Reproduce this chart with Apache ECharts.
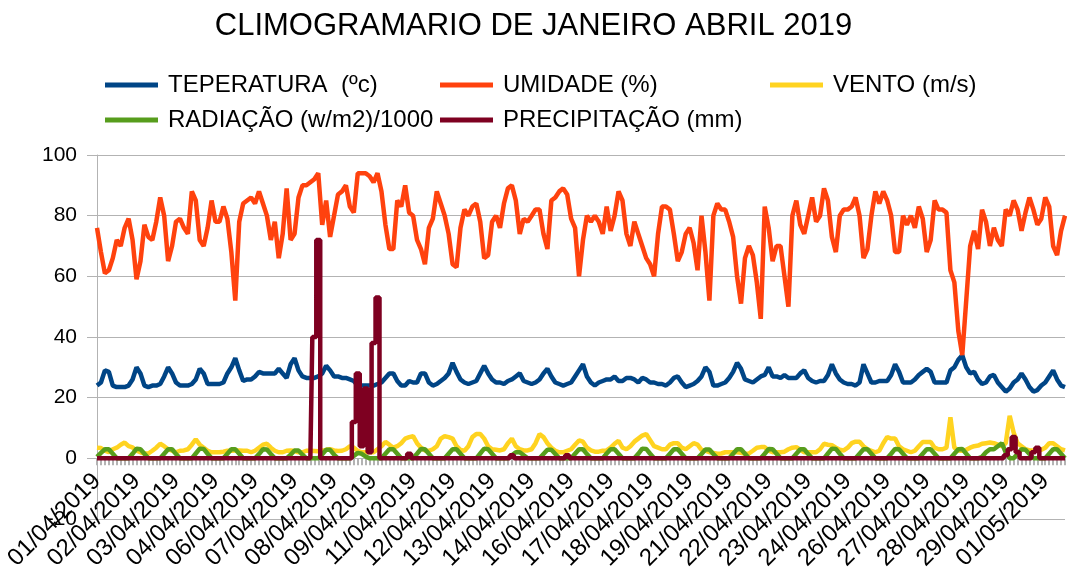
<!DOCTYPE html>
<html>
<head>
<meta charset="utf-8">
<script src="https://cdn.jsdelivr.net/npm/echarts@6/dist/echarts.min.js"></script>
<style>
html,body{margin:0;padding:0;background:#fff;}
#chart{width:1067px;height:571px;}
</style>
</head>
<body>
<div id="chart"></div>
<script>
// Tick labels shown on the x axis (one every 10 samples of 3 hours)
var tickLabels = ['01/04/2019','02/04/2019','03/04/2019','04/04/2019','06/04/2019','07/04/2019','08/04/2019','09/04/2019','11/04/2019','12/04/2019','13/04/2019','14/04/2019','16/04/2019','17/04/2019','18/04/2019','19/04/2019','21/04/2019','22/04/2019','23/04/2019','24/04/2019','26/04/2019','27/04/2019','28/04/2019','29/04/2019','01/05/2019'];

var seriesNames = ['TEPERATURA  (ºc)','UMIDADE (%)','VENTO (m/s)','RADIAÇÃO (w/m2)/1000','PRECIPITAÇÃO (mm)'];

var temperatura = [
24,25,29,28.5,24,23.5,23.5,23.5,24,26,
30,28,24,23.5,24,24,24.5,27,30,28,
25,24,24,24,24.5,26,29.5,28,24.5,24.5,
24.5,24.5,25,28,30,33,29,25.5,26,26,
27,28.5,28,28,28,28,29.5,28,26.5,31,
33,29,27,26.5,26.5,26.5,27,28,30.5,29,
27,27,26.5,26.5,26,25.5,24,24,24,24,
24,24.5,25,26.5,28,28,25.5,24,24,25.5,
25,25,28,28,25,24,24.5,25.5,26.5,28,
31.5,28.5,26,25,24.5,25,25.5,28,30.5,28,
26,25,25,24.5,25.5,26,27,28,25.5,25,
24.5,25,26,28,29.5,27,25,24.5,24,24.5,
25,27,29,31,27,25,24,25,25.5,26,
26,27,25.5,25.5,26.5,26.5,26,25,26.5,26,
25,25,24.5,24.5,24,25,26.5,27,25,23.5,
24,24.5,25.5,27,30,28.5,24,24,24.5,25,
26.5,28.5,31.5,29.5,26,25.5,25,26,27,27.5,
30,27,27,26.5,27.5,26.5,26.5,26.5,28,29,
26.5,25.5,25,25.5,25.5,27.5,31,28,26,25,
24.5,24.5,24,25,31,28,25,25,25.5,25.5,
25.5,27.5,31,28.5,25,25,25,26,27.5,28.5,
29.5,28.5,25,25,25,25,29,30,32.5,34,
30,28,28.5,26,24.5,25,27,27.5,25,23.5,
22,23,25,26,28,26,23.5,22,22.5,24,
25,27,29,26,24,23.5
];

var umidade = [
76,68,61,62,66,72,70,76,79,72,
59,65,77,73,72,78,86,80,65,70,
78,79,76,74,88,85,72,70,76,85,
78,78,83,79,68,52,78,84,85,86,
84,88,84,80,72,78,66,74,89,72,
74,86,90,90,91,92,94,77,85,73,
80,87,88,90,83,81,94,94,94,93,
91,94,88,77,69,69,85,83,90,81,
80,72,69,64,76,79,88,84,80,74,
64,63,76,82,80,83,84,78,66,67,
78,80,76,84,89,90,85,74,79,78,
80,82,82,74,69,85,86,88,89,87,
79,76,60,72,80,78,80,78,74,83,
75,80,88,85,74,70,78,74,70,66,
64,60,74,83,83,82,74,65,68,74,
76,71,62,80,68,52,80,84,82,82,
78,73,60,51,66,70,67,58,46,83,
76,65,70,70,60,50,80,85,77,74,
80,86,78,80,89,85,73,68,80,82,
82,83,86,80,66,69,80,88,84,88,
85,80,68,68,80,77,80,76,83,79,
68,72,85,82,82,81,62,58,42,34,
52,70,75,69,82,78,70,76,72,70,
82,80,85,82,75,81,86,82,77,79,
86,83,70,67,75,80
];

var vento = [
3.5,3.4,2.5,2,3,3.5,4.5,5.2,4,3.6,
2.5,2,1.6,1.6,2.5,3.5,4.8,4,3,2.5,
2,2.5,2.6,3,4.5,6.3,4.5,3.5,2.5,2,
2,2,2.2,2.5,2.5,2.6,2.6,2.5,2.5,2,
2.5,3.5,4.5,4.8,3.5,2.5,2,2,2.5,2.6,
2.4,2,2,2.5,2.5,2.4,2.3,2.5,2.8,3,
2.6,2.4,2.5,3,4,3.5,2.5,2,2,2,
2,3,4,5.4,4.5,3.5,4,5,6.5,7,
7.3,5,3.5,2.6,2.5,3,4,6.5,7.3,7,
6.5,4,2.8,2.5,4,7,8,8,6.5,4,
3,2.8,2.6,3,5,6.5,4,3,2.6,2.6,
3,5,8,7,5,3.5,2.5,2,2,2.5,
3,4.5,5.9,5.5,3.5,2.6,2.2,2.2,2.5,2.6,
3.5,4.8,5.8,3.5,3,4,5.5,6.5,7.5,8,
6,4,3.5,3,3,4.5,5,5,3.5,3,
4,5,4.5,2.8,2.5,2,1.8,1.5,1.6,2,
2,2,2,1.8,1.5,1.6,2.5,3.5,3.7,3.7,
2.5,2,2,2,2.2,3,3.5,3.7,2.8,2,
2,2,2,3,4.8,4.5,4.3,3.5,2.8,2.6,
3.5,5,5.5,5.5,4,3,2.5,2,2.5,5,
7,6.5,6.5,4,3,2.5,2,2.5,4,5.4,
5.4,5.4,3.5,3,3,3.5,13.5,3.5,2.6,2.5,
2.8,3.5,4,4.2,4.8,5,5.2,5,4.5,4,
5,14,8.5,5,4,3,2.6,2.6,2.6,2.8,
3.5,5,5,4,3,2.6
];

var radiacao = [
0.5,1.8,3,3,1.5,0,0,0,
0,1.5,3.2,3,1.5,0,0,0,
0,1.5,3,3,1.4,0,0,0,
0,1.6,3.2,3.1,1.5,0,0,0,
0,1.5,3,3,1.5,0,0,0,
0,1.4,3,2.9,1.4,0,0,0,
0,1.2,2.6,2.6,1.2,0,0,0,
0,1.3,2.8,2.8,1.2,0,0,0,
0,0.8,1.8,1.5,0.6,0,0,0,
0,1.5,3,3,1.5,0,0,0,
0,1.5,3.1,3,1.5,0,0,0,
0,1.5,3,3,1.5,0,0,0,
0,1.6,3.2,3,1.5,0,0,0,
0,1,2,2,1,0,0,0,
0,1.4,2.8,2.8,1.4,0,0,0,
0,1.5,3,3,1.4,0,0,0,
0,1.6,3,3,1.5,0,0,0,
0,1.5,3.2,3.1,1.5,0,0,0,
0,1.5,3,3,1.5,0,0,0,
0,1.4,2.9,2.9,1.4,0,0,0,
0,1.5,3,3,1.5,0,0,0,
0,1.5,3.1,3,1.5,0,0,0,
0,1.5,3,3,1.4,0,0,0,
0,1.6,3.2,3.1,1.5,0,0,0,
0,1.5,3,3,1.5,0,0,0,
0,1.5,3.1,3,1.5,0,0,0,
0,1.5,3,3,1.5,0,0,0,
0,1.5,3,3.1,1.5,0,0,0,
0.5,2,3,3,4,5,2,0,
0,1.5,3,2.8,1.4,0,0,0,
0,1.5,3,3,1.5,0
];

var precipitacao = [
0,0,0,0,0,0,0,0,0,0,
0,0,0,0,0,0,0,0,0,0,
0,0,0,0,0,0,0,0,0,0,
0,0,0,0,0,0,0,0,0,0,
0,0,0,0,0,0,0,0,0,0,
0,0,0,0,0,40,72,0,0,0,
0,0,0,0,0,12,28,4,23,2,
38,53,0,0,0,0,0,0,0,1.5,
0,0,0,0,0,0,0,0,0,0,
0,0,0,0,0,0,0,0,0,0,
0,0,0,0,0,1,0,0,0,0,
0,0,0,0,0,0,0,0,0,1,
0,0,0,0,0,0,0,0,0,0,
0,0,0,0,0,0,0,0,0,0,
0,0,0,0,0,0,0,0,0,0,
0,0,0,0,0,0,0,0,0,0,
0,0,0,0,0,0,0,0,0,0,
0,0,0,0,0,0,0,0,0,0,
0,0,0,0,0,0,0,0,0,0,
0,0,0,0,0,0,0,0,0,0,
0,0,0,0,0,0,0,0,0,0,
0,0,0,0,0,0,0,0,0,0,
0,0,0,0,0,0,0,0,0,0,
1,3,7,2,0,0,0,2,3.5,0,
0,0,0,0,0,0
];

var colors = ['#004586','#ff420e','#ffd320','#579d1c','#7e0021'];
var FONT = '"Liberation Sans", Arial, sans-serif';

var categories = temperatura.map(function(v, i){
  return (i % 10 === 0 && tickLabels[i/10]) ? tickLabels[i/10] : String(i);
});

var allData = [temperatura, umidade, vento, radiacao, precipitacao];
var legendPos = [[105,73],[440,73],[770,73],[105,108],[440,108]];

var legends = seriesNames.map(function(n, k){
  return {
    data: [n], left: legendPos[k][0], top: legendPos[k][1],
    icon: 'rect', itemWidth: 53, itemHeight: 5,
    selectedMode: false, padding: 0,
    textStyle: {fontFamily: FONT, fontSize: 24, color: '#000', padding: [0,0,0,5]}
  };
});

var GRID_TOP = 155, GRID_BOTTOM = 52, CHART_H = 571;
var Y_MIN = -20, Y_MAX = 100;
// distance of the zero line above the plot bottom, so the x axis sits on zero
var plotH = CHART_H - GRID_TOP - GRID_BOTTOM;
var zeroOffset = plotH * (0 - Y_MIN) / (Y_MAX - Y_MIN);

var chart = echarts.init(document.getElementById('chart'), null, {renderer: 'canvas'});
chart.setOption({
  animation: false,
  backgroundColor: '#fff',
  color: colors,
  title: {
    text: 'CLIMOGRAMARIO DE JANEIRO ABRIL 2019',
    left: 'center', top: 6,
    textStyle: {fontFamily: FONT, fontSize: 31, fontWeight: 'normal', color: '#000'}
  },
  legend: legends,
  grid: {left: 97, right: 2, top: GRID_TOP, bottom: GRID_BOTTOM, containLabel: false, outerBoundsMode: 'none'},
  xAxis: {
    type: 'category', data: categories, boundaryGap: false,
    position: 'bottom', offset: -zeroOffset,
    axisLine: {show: true, onZero: false, lineStyle: {color: '#b3b3b3', width: 1}},
    axisTick: {show: true, interval: 0, length: 7, lineStyle: {color: '#b3b3b3', width: 2}},
    axisLabel: {interval: 9, rotate: 45, margin: 19, fontFamily: FONT, fontSize: 24, color: '#000'},
    splitLine: {show: false}
  },
  yAxis: {
    type: 'value', min: Y_MIN, max: Y_MAX, interval: 20,
    axisLine: {show: true, lineStyle: {color: '#b3b3b3', width: 1}},
    axisTick: {show: true, length: 10, lineStyle: {color: '#b3b3b3'}},
    axisLabel: {margin: 20, fontFamily: FONT, fontSize: 21, color: '#000'},
    splitLine: {show: true, lineStyle: {color: '#b3b3b3', width: 1}}
  },
  series: seriesNames.map(function(n, k){
    return {
      name: n, type: 'line', data: allData[k], symbol: 'none', showSymbol: false,
      step: k === 4 ? 'middle' : false,
      lineStyle: {width: 4.5, color: colors[k]}, itemStyle: {color: colors[k]},
      z: 2 + k
    };
  })
});
</script>
</body>
</html>
